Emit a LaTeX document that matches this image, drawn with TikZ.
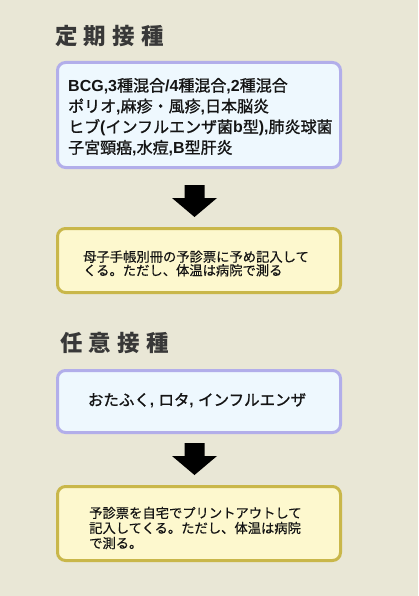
\documentclass[tikz,border=0pt]{standalone}
\usepackage{fontspec}
\newfontfamily\jp{Noto Sans CJK JP}
\newfontfamily\jpm[FakeBold=1.2]{Noto Sans CJK JP}
\newfontfamily\jps[FakeBold=0.4]{Noto Sans CJK JP}
\newfontfamily\latb{Liberation Sans}
\newcommand{\lt}[1]{{\latb\bfseries #1}}
\definecolor{bgc}{RGB}{233,231,214}
\definecolor{bluefill}{RGB}{238,248,254}
\definecolor{blueline}{RGB}{178,174,234}
\definecolor{yelfill}{RGB}{253,248,206}
\definecolor{yelline}{RGB}{201,183,74}
\definecolor{titlec}{RGB}{56,56,56}
\definecolor{txt}{RGB}{20,20,20}
\tikzset{
  bluebox/.style={draw=blueline, fill=bluefill, line width=3pt, rounded corners=8pt,
    minimum width=283pt, inner sep=0pt},
  yelbox/.style={draw=yelline, fill=yelfill, line width=3pt, rounded corners=8pt,
    minimum width=283pt, inner sep=0pt},
  titletext/.style={text=titlec, inner sep=0pt, font=\jp\bfseries\fontsize{22.5}{24}\selectfont},
  bigtext/.style={text=txt, inner sep=0pt, align=left, font=\jpm\fontsize{16}{20.7}\selectfont},
  smalltext/.style={text=txt, inner sep=0pt, align=left, font=\jps\fontsize{13.3}{13.6}\selectfont},
  blockarrow/.style={fill=black}
}
\begin{document}
\begin{tikzpicture}[x=1pt,y=-1pt]
\fill[bgc] (0,0) rectangle (418,596);
\useasboundingbox (0,0) rectangle (418,596);

% titles
\node[titletext] (t1) at (109.5,36.5) {定\hspace{6pt}期\hspace{6pt}接\hspace{6pt}種};
\node[titletext] (t2) at (114.5,343) {任\hspace{6pt}意\hspace{6pt}接\hspace{6pt}種};

% boxes
\node[bluebox, minimum height=105pt] (b1) at (199,115) {};
\node[yelbox, minimum height=64pt] (b2) at (199,260.5) {};
\node[bluebox, minimum height=62pt] (b3) at (199,401.5) {};
\node[yelbox, minimum height=74pt] (b4) at (199,523.5) {};

% texts
\node[bigtext, anchor=west] (x1) at (68,117) {\lt{BCG,3}種混合\lt{/4}種混合\lt{,2}種混合\\ポリオ\lt{,}麻疹・風疹\lt{,}日本脳炎\\ヒブ\lt{(}インフルエンザ菌\lt{b}型\lt{),}肺炎球菌\\子宮頸癌\lt{,}水痘\lt{,B}型肝炎};
\node[smalltext, anchor=west] (x2) at (83,263.5) {母子手帳別冊の予診票に予め記入して\\くる。ただし、体温は病院で測る};
\node[bigtext, anchor=center, font=\jpm\fontsize{15.5}{20}\selectfont] (x3) at (197,400.5) {おたふく\lt{, }ロタ\lt{, }インフルエンザ};
\node[smalltext, anchor=west, font=\jps\fontsize{13.3}{15.1}\selectfont] (x4) at (89,528) {予診票を自宅でプリントアウトして\\記入してくる。ただし、体温は病院\\で測る。};

% block arrows
\coordinate (a1) at (194.5,185);
\coordinate (a2) at (194.5,443);
\foreach \c in {a1,a2}{
  \fill[blockarrow] (\c) ++(-10,0) -- ++(20,0) -- ++(0,13) -- ++(12.5,0) -- ++(-22.5,19) -- ++(-22.5,-19) -- ++(12.5,0) -- cycle;
}
\end{tikzpicture}
\end{document}
